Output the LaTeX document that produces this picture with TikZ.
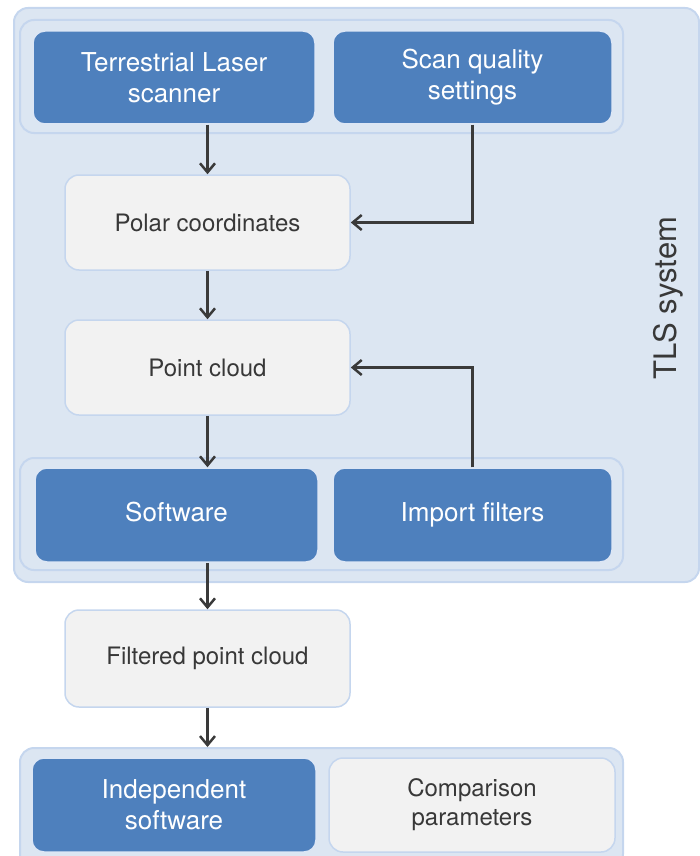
\documentclass[tikz,border=0pt]{standalone}
\usepackage{fontspec}
\setmainfont{TeX Gyre Heros}
\usetikzlibrary{arrows.meta}
\definecolor{tlsback}{RGB}{220,230,242}
\definecolor{tlsedge}{RGB}{197,214,238}
\definecolor{blockblue}{RGB}{78,128,189}
\definecolor{plaingray}{RGB}{242,242,242}
\definecolor{arrowgray}{RGB}{58,58,58}
\tikzset{groupbox/.style={draw=tlsedge,line width=2pt,fill=tlsback,rounded corners=14pt,inner sep=0pt},
    blockbox/.style={draw=tlsedge!60!white,line width=1.5pt,fill=blockblue,rounded corners=12pt,text=white,align=center,font=\fontsize{26}{31}\selectfont,inner sep=0pt},
    plainbox/.style={draw=tlsedge,line width=1.5pt,fill=plaingray,rounded corners=14pt,text=black!78,align=center,font=\fontsize{24}{29}\selectfont,inner sep=0pt},
    flow/.style={draw=arrowgray,line width=2.5pt,-{Straight Barb[length=9pt,width=15pt]}}}

\begin{document}
\begin{tikzpicture}[x=1pt,y=-1pt]
            \useasboundingbox (0,0) rectangle (700,856);
            % TLS system
            \node[groupbox, minimum width=685pt, minimum height=574pt] (tlssys) at (356.5,295) {};
            \node[rotate=90, text=black!78, font=\fontsize{31}{36}\selectfont] (tlslbl) at (668,298) {TLS system};
            % scanner and settings
            \node[groupbox, minimum width=603pt, minimum height=113pt] (grpa) at (321.5,76.5) {};
            \node[blockbox, minimum width=282pt, minimum height=93pt] (tls) at (174,77.5) {Terrestrial Laser\\scanner};
            \node[blockbox, minimum width=279pt, minimum height=93pt] (scanq) at (472.5,77.5) {Scan quality\\settings};
            % data
            \node[plainbox, minimum width=285pt, minimum height=95pt] (polar) at (207.5,222.5) {Polar coordinates};
            \node[plainbox, minimum width=285pt, minimum height=95pt] (cloud) at (207.5,367.5) {Point cloud};
            % software and filters
            \node[groupbox, minimum width=603pt, minimum height=112pt] (grpb) at (321.5,514) {};
            \node[blockbox, text depth=6pt, minimum width=283pt, minimum height=94pt] (soft) at (176.5,515) {Software};
            \node[blockbox, text depth=6pt, minimum width=279pt, minimum height=94pt] (impf) at (472.5,515) {Import filters};
            \node[plainbox, minimum width=285pt, minimum height=97pt] (filt) at (207.5,658.5) {Filtered point cloud};
            % comparison
            \node[groupbox, minimum width=603pt, minimum height=120pt] (grpc) at (321.5,808) {};
            \node[blockbox, minimum width=284pt, minimum height=94pt] (indep) at (174,805) {Independent\\software};
            \node[plainbox, minimum width=286pt, minimum height=94pt] (comp) at (472,805) {Comparison\\parameters};

            \draw[flow] (tls.south -| polar.north) -- (polar.north);
            \draw[flow] (scanq.south) |- (polar.east);
            \draw[flow] (polar.south) -- (cloud.north);
            \draw[flow] (impf.north) |- (cloud.east);
            \draw[flow] (cloud.south) -- (cloud.south |- soft.north);
            \draw[flow] (soft.south -| filt.south) -- (filt.north);
            \draw[flow] (filt.south) -- (filt.south |- grpc.north);
        \end{tikzpicture}
\end{document}
